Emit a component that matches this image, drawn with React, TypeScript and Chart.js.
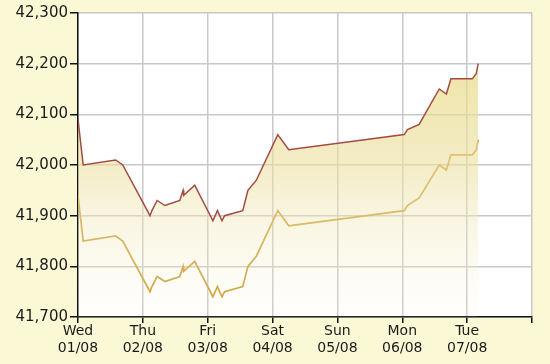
import React, { useEffect, useRef } from "react";
import { Chart, registerables } from "chart.js";

Chart.register(...registerables);

// Day offsets from Wed 01/08 00:00 (in days)
const dayOffsets = [
  0.0, 0.08, 0.58, 0.69, 1.11, 1.14, 1.22, 1.34, 1.57, 1.62, 1.63, 1.8,
  2.08, 2.15, 2.22, 2.26, 2.54, 2.62, 2.75, 3.08, 3.25, 5.03, 5.08, 5.26,
  5.57, 5.68, 5.75, 6.08, 6.14, 6.17,
];
const sellPrices = [
  42090, 42000, 42010, 42000, 41900, 41910, 41930, 41920, 41930, 41950, 41940, 41960,
  41890, 41910, 41890, 41900, 41910, 41950, 41970, 42060, 42030, 42060, 42070, 42080,
  42150, 42140, 42170, 42170, 42180, 42200,
];
const buyPrices = [
  41940, 41850, 41860, 41850, 41750, 41760, 41780, 41770, 41780, 41800, 41790, 41810,
  41740, 41760, 41740, 41750, 41760, 41800, 41820, 41910, 41880, 41910, 41920, 41935,
  42000, 41990, 42020, 42020, 42030, 42050,
];
const dayNames = ["Wed", "Thu", "Fri", "Sat", "Sun", "Mon", "Tue", ""];
const dayDates = ["01/08", "02/08", "03/08", "04/08", "05/08", "06/08", "07/08", ""];

export default function App() {
  const ref = useRef<HTMLCanvasElement | null>(null);

  useEffect(() => {
    document.body.style.margin = "0";
    const canvas = ref.current;
    if (!canvas) return;

    const plotBg = {
      id: "plotBg",
      beforeDraw(chart: any) {
        const { ctx, chartArea } = chart;
        ctx.save();
        ctx.fillStyle = "#ffffff";
        ctx.fillRect(chartArea.left, chartArea.top, chartArea.right - chartArea.left, chartArea.bottom - chartArea.top);
        ctx.restore();
      },
    };

    const chart = new Chart(canvas, {
      type: "line",
      data: {
        datasets: [
          {
            label: "Sell",
            data: dayOffsets.map((d, i) => ({ x: d, y: sellPrices[i] })),
            borderColor: "#a34a42",
            borderWidth: 1.5,
            pointRadius: 0,
            tension: 0,
            fill: "start",
            backgroundColor: (ctx: any) => {
              const ca = ctx.chart.chartArea;
              if (!ca) return "rgba(240,230,170,0.6)";
              const g = ctx.chart.ctx.createLinearGradient(0, ca.top, 0, ca.bottom);
              g.addColorStop(0, "rgba(232,216,120,0.8)");
              g.addColorStop(0.5, "rgba(236,224,160,0.6)");
              g.addColorStop(1, "rgba(250,246,225,0.1)");
              return g;
            },
          },
          {
            label: "Buy",
            data: dayOffsets.map((d, i) => ({ x: d, y: buyPrices[i] })),
            borderColor: "#c8982a",
            borderWidth: 1.7,
            pointRadius: 0,
            tension: 0,
            fill: false,
          },
        ],
      },
      options: {
        animation: false,
        responsive: false,
        maintainAspectRatio: false,
        layout: { padding: { left: 0, right: 18, top: 13, bottom: 0 } },
        plugins: { legend: { display: false }, tooltip: { enabled: false } },
        scales: {
          x: {
            type: "linear",
            min: 0,
            max: 7,
            afterFit: (s: any) => {
              s.height = 47;
            },
            ticks: {
              stepSize: 1,
              autoSkip: false,
              maxRotation: 0,
              color: "#1a1a1a",
              font: { family: "DejaVu Sans", size: 14, lineHeight: 1.2 },
              padding: 0,
              callback: (v: any) => {
                const i = Math.round(Number(v));
                if (!dayNames[i]) return "";
                return [dayNames[i], dayDates[i]];
              },
            },
            grid: { color: "#c8c8c8", lineWidth: 1.5, tickLength: 6, tickColor: "#111111", tickWidth: 1.5 },
            border: { color: "#111111", width: 1.5 },
          },
          y: {
            min: 41700,
            max: 42300,
            afterFit: (s: any) => {
              s.width = 78;
            },
            ticks: {
              stepSize: 100,
              color: "#1a1a1a",
              font: { family: "DejaVu Sans", size: 15 },
              padding: 2,
              callback: (v: any) => Number(v).toLocaleString("en-US"),
            },
            grid: { color: "#c8c8c8", lineWidth: 1.5, tickLength: 8, tickColor: "#111111", tickWidth: 1.5 },
            border: { color: "#111111", width: 1.5 },
          },
        },
      },
      plugins: [plotBg],
    });

    return () => chart.destroy();
  }, []);

  return (
    <div style={{ width: 550, height: 364, background: "#fbf8d6" }}>
      <canvas ref={ref} width={550} height={364} style={{ display: "block" }} />
    </div>
  );
}
